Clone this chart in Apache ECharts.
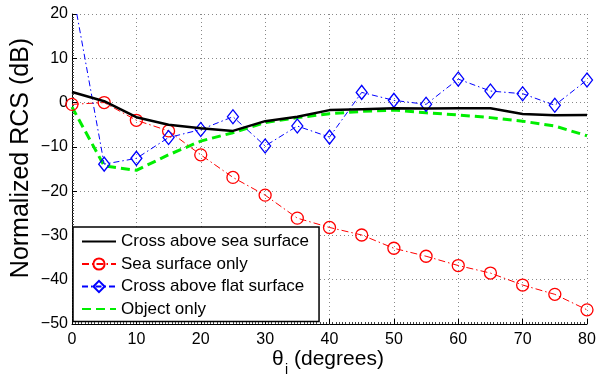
<!DOCTYPE html>
<html>
<head>
<meta charset="utf-8">
<script src="https://cdn.jsdelivr.net/npm/echarts@6/dist/echarts.min.js"></script>
<style>
html,body{margin:0;padding:0;background:#fff;}
#c{width:599px;height:383px;}
</style>
</head>
<body>
<div id="c"></div>
<script>
var angles = [0,5,10,15,20,25,30,35,40,45,50,55,60,65,70,75,80];
var crossSea = [2.4, 0.3, -3.3, -5.0, -5.8, -6.4, -4.2, -3.2, -1.7, -1.5, -1.3, -1.35, -1.3, -1.3, -2.6, -2.85, -2.8];
var seaOnly = [-0.4, 0.0, -4.0, -6.4, -11.8, -16.9, -20.9, -26.1, -28.2, -29.9, -32.9, -34.7, -36.8, -38.5, -41.2, -43.3, -46.8];
var crossFlat = [26, -13.9, -12.6, -7.9, -6.1, -3.2, -9.8, -5.3, -7.8, 2.3, 0.5, -0.4, 5.3, 2.6, 2.0, -0.6, 5.1];
var objectOnly = [-1.0, -14.3, -15.3, -11.8, -8.7, -6.8, -4.5, -3.4, -2.5, -2.0, -1.7, -2.3, -2.8, -3.4, -4.2, -5.3, -7.5];
var seriesNames = ['Cross above sea surface','Sea surface only','Cross above flat surface','Object only'];
var xTitle = ['θ','i','(degrees)'];
var yTitle = 'Normalized RCS (dB)';

function pairs(v){ return angles.map(function(a,i){ return [a, v[i]]; }); }
var FONT = 'Liberation Sans, Arial, Helvetica, sans-serif';

var chart = echarts.init(document.getElementById('c'), null, {renderer:'canvas'});
chart.setOption({
  animation:false,
  backgroundColor:'#fff',
  textStyle:{fontFamily:FONT},
  grid:{left:72, right:12, top:14, bottom:59, containLabel:false},
  xAxis:{
    type:'value', min:0, max:80, interval:10,
    axisLine:{show:true, onZero:false, lineStyle:{color:'#000', width:1}},
    axisTick:{show:true, inside:true, length:5, lineStyle:{color:'#000'}},
    minorTick:{show:true, splitNumber:20, length:2, lineStyle:{color:'#444'}},
    axisLabel:{color:'#000', fontSize:16, fontFamily:FONT, margin:8},
    splitLine:{show:true, lineStyle:{color:'#888', width:1, type:[1,3]}}
  },
  yAxis:{
    type:'value', min:-50, max:20, interval:10,
    axisLine:{show:true, onZero:false, lineStyle:{color:'#000', width:1}},
    axisTick:{show:true, inside:true, length:5, lineStyle:{color:'#000'}},
    minorTick:{show:true, splitNumber:16, length:2, lineStyle:{color:'#444'}},
    axisLabel:{color:'#000', fontSize:16, fontFamily:FONT, margin:4,
      formatter:function(v){ return String(v).replace('-', '\u2212'); }},
    splitLine:{show:true, lineStyle:{color:'#888', width:1, type:[1,3]}}
  },
  legend:{
    orient:'vertical', left:73, top:227,
    padding:[6,10,4,8],
    itemWidth:34, itemHeight:14, itemGap:5.5,
    backgroundColor:'#fff', borderColor:'#000', borderWidth:1.5, borderRadius:0,
    textStyle:{color:'#000', fontSize:17, fontFamily:FONT},
    data:[
      {name:seriesNames[0], itemStyle:{opacity:0}},
      {name:seriesNames[1]},
      {name:seriesNames[2]},
      {name:seriesNames[3], itemStyle:{opacity:0}}
    ]
  },
  series:[
    {name:seriesNames[0], type:'line', data:pairs(crossSea), symbol:'none',
     lineStyle:{color:'#000', width:2.5}, itemStyle:{color:'#000'}, z:4},
    {name:seriesNames[1], type:'line', data:pairs(seaOnly), symbol:'circle', symbolSize:12,
     lineStyle:{color:'#ff0000', width:1, type:[7,3,1.5,3]},
     itemStyle:{color:'rgba(255,255,255,0)', borderColor:'#ff0000', borderWidth:1.3}, z:3},
    {name:seriesNames[2], type:'line', data:pairs(crossFlat), symbol:'diamond', symbolSize:[11,14],
     lineStyle:{color:'#0000ff', width:1, type:[6,3,1.5,3]},
     itemStyle:{color:'rgba(255,255,255,0)', borderColor:'#0000ff', borderWidth:1.3}, z:3, clip:true},
    {name:seriesNames[3], type:'line', data:pairs(objectOnly), symbol:'none',
     lineStyle:{color:'#00ee00', width:3, type:[9,5]}, itemStyle:{color:'#00ee00'}, z:2}
  ],
  graphic:[
    {type:'text', x:21, y:158, rotation:Math.PI/2,
     style:{text:yTitle, fill:'#000', font:'25px '+FONT, align:'center', verticalAlign:'middle'}},
    {type:'text', x:272, y:359, style:{text:xTitle[0], fill:'#000', font:'21px '+FONT, align:'left', verticalAlign:'middle'}},
    {type:'text', x:285, y:370, style:{text:xTitle[1], fill:'#000', font:'14px '+FONT, align:'left', verticalAlign:'middle'}},
    {type:'text', x:294, y:359, style:{text:xTitle[2], fill:'#000', font:'21px '+FONT, align:'left', verticalAlign:'middle'}}
  ]
});
</script>
</body>
</html>
